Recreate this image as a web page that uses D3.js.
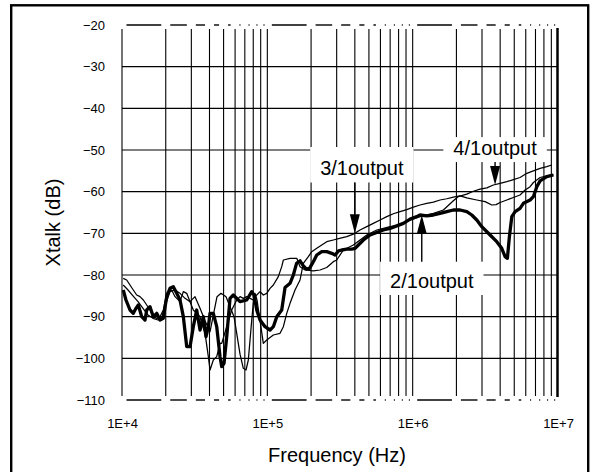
<!DOCTYPE html>
<html><head><meta charset="utf-8">
<script src="https://cdn.jsdelivr.net/npm/d3@7"></script>
<style>body{margin:0;background:#fff}svg{display:block;font-family:"Liberation Sans",Arial,sans-serif}</style>
</head><body><svg id="c" width="594" height="472"></svg>
<script>
// ---- data ----
const yTicks = [-20,-30,-40,-50,-60,-70,-80,-90,-100,-110];
const xTickValues = [1e4,1e5,1e6,1e7];
const xTickLabels = ["1E+4","1E+5","1E+6","1E+7"];

// 2/1output (bold)
const freq21 = [1.02e4,1.065e4,1.135e4,1.196e4,1.248e4,1.295e4,1.367e4,1.44e4,1.479e4,1.558e4,1.642e4,1.733e4,1.826e4,1.924e4,2.03e4,2.14e4,2.255e4,2.38e4,2.507e4,2.642e4,2.788e4,2.938e4,3.095e4,3.266e4,3.442e4,3.627e4,3.786e4,3.927e4,4.034e4,4.25e4,4.485e4,4.726e4,4.856e4,5.035e4,5.255e4,5.537e4,5.834e4,6.488e4,7.216e4,7.81e4,8.1e4,8.45e4,8.91e4,9.64e4,1.044e5,1.1e5,1.161e5,1.256e5,1.324e5,1.433e5,1.51e5,1.589e5,1.679e5,1.769e5,1.861e5,1.952e5,2.073e5,2.188e5,2.368e5,2.564e5,2.775e5,2.924e5,3.09e5,3.252e5,3.52e5,3.81e5,4.015e5,4.23e5,4.58e5,5.09e5,5.66e5,6.28e5,6.99e5,7.77e5,8.63e5,9.6e5,1.067e6,1.124e6,1.25e6,1.389e6,1.544e6,1.717e6,1.906e6,2.12e6,2.357e6,2.552e6,2.762e6,2.99e6,3.41e6,3.79e6,4.1e6,4.325e6,4.485e6,4.63e6,4.81e6,5.07e6,5.48e6,5.78e6,6.43e6,6.77e6,7.15e6,7.53e6,8.37e6,9.3e6];
const db21 = [-83.6,-86,-88.4,-89.2,-88,-87.2,-90,-90.8,-88.4,-87.6,-90,-89.2,-90.8,-90.4,-85.2,-83.2,-82.8,-84.4,-86,-90,-97.2,-97.2,-92.4,-88.4,-93.2,-90,-94.8,-92.4,-89.2,-89.2,-92.4,-99.6,-102,-101.2,-94.8,-85.6,-84.8,-86.4,-86,-84,-84.8,-88.4,-90.8,-92.4,-93.2,-92.4,-90,-88.4,-83,-82,-80,-77.2,-76.6,-77.8,-78.6,-78.4,-76.8,-75.2,-74.4,-74.4,-74.8,-75.2,-74.2,-74,-73.8,-73.8,-73.6,-72.8,-71.6,-70.4,-69.8,-69.2,-68.8,-68.2,-67.6,-66.6,-66,-65.6,-65.8,-65.6,-65.2,-64.8,-64.4,-64.4,-64.8,-65.6,-66.8,-68.4,-70.4,-72,-73.6,-75.6,-76,-70.8,-66,-64.8,-64,-62.8,-62,-61.2,-58.8,-57.4,-56.4,-56];

// 4/1output (thin)
const freq41 = [1.02e4,1.077e4,1.135e4,1.196e4,1.262e4,1.33e4,1.402e4,1.479e4,1.558e4,1.642e4,1.733e4,1.826e4,1.924e4,2.03e4,2.198e4,2.317e4,2.507e4,2.642e4,2.788e4,2.938e4,3.095e4,3.266e4,3.442e4,3.536e4,3.727e4,3.927e4,4.034e4,4.25e4,4.485e4,4.726e4,4.856e4,5.255e4,5.689e4,6.157e4,6.488e4,6.836e4,7.216e4,7.603e4,8.009e4,8.45e4,8.91e4,9.386e4,9.906e4,1.044e5,1.1e5,1.19e5,1.256e5,1.289e5,1.433e5,1.594e5,1.679e5,1.818e5,2.073e5,2.305e5,2.564e5,2.846e5,3.004e5,3.334e5,3.907e5,4.345e5,4.832e5,5.66e5,6.99e5,8.19e5,9.6e5,1.124e6,1.389e6,1.627e6,1.906e6,2.054e6,2.357e6,2.617e6,2.911e6,3.236e6,3.593e6,3.996e6,4.443e6,4.932e6,5.48e6,6.1e6,6.77e6,7.53e6,8.37e6,9.07e6];
const db41 = [-80.8,-81.2,-82.4,-83.6,-84.8,-85.2,-86,-87.2,-88.4,-90,-90.4,-90,-88.4,-84.4,-83.6,-85.2,-86.4,-84,-84.4,-86.4,-88.4,-89.2,-90,-91.6,-94,-99.6,-102.8,-100.4,-99.6,-96.4,-96.4,-92.4,-88.4,-86,-85.2,-85.6,-85.2,-85.6,-86,-84.8,-84,-84.8,-84.4,-83.2,-82.4,-80.4,-78,-76.4,-76,-76,-78,-78.8,-79,-78.8,-78.2,-76.8,-76.4,-74,-72.8,-71.6,-70.4,-69.2,-68.4,-68,-66.8,-66,-65.2,-64.4,-62.2,-61.2,-60.6,-59.9,-59.4,-59.1,-58.4,-58,-57.6,-57.1,-56.6,-55.6,-55,-54.4,-54,-53.6];

// 3/1output (thin)
const freq31 = [1.02e4,1.1e4,1.19e4,1.289e4,1.395e4,1.51e4,1.635e4,1.77e4,1.885e4,2.008e4,2.14e4,2.317e4,2.507e4,2.714e4,2.938e4,3.18e4,3.442e4,3.727e4,4.034e4,4.23e4,4.506e4,4.8e4,5.197e4,5.537e4,5.9e4,6.157e4,6.488e4,6.836e4,7.136e4,7.4e4,7.603e4,7.81e4,8.009e4,8.228e4,8.49e4,8.91e4,9.386e4,9.906e4,1.1e5,1.223e5,1.289e5,1.36e5,1.433e5,1.551e5,1.679e5,1.769e5,1.915e5,2.021e5,2.188e5,2.564e5,2.846e5,3.14e5,3.52e5,3.907e5,4.345e5,4.832e5,5.364e5,5.965e5,6.633e5,7.366e5,8.19e5,9.107e5,1.011e6,1.124e6,1.25e6,1.389e6,1.544e6,1.717e6,1.906e6,2.12e6,2.357e6,2.762e6,3.15e6,3.503e6,3.75e6,3.996e6,4.443e6,4.932e6,5.48e6,5.94e6,6.43e6,6.77e6,7.53e6,8.37e6,9.3e6];
const db31 = [-82.4,-83.6,-85,-86.4,-88,-89.6,-90.4,-90.8,-90,-86.8,-84,-83.6,-84.4,-85.6,-86.4,-85.2,-88,-91,-93.6,-90,-85.2,-84.4,-85.2,-87.6,-90,-94,-99,-102.4,-102.8,-100.4,-95.6,-90.8,-86.8,-84.4,-86,-91,-96.4,-95.6,-94.4,-94,-92.4,-89.2,-86.8,-83.6,-81.2,-77.2,-75.6,-74.4,-73.6,-72,-71.6,-71.2,-70.8,-70.2,-69.2,-68.4,-67.6,-66.8,-66,-65.3,-64.8,-64.3,-63.7,-63.2,-62.8,-62.5,-62,-61.7,-61.3,-61,-61.5,-62,-62.4,-63.2,-63.1,-62.6,-62,-61.4,-60.8,-59.6,-58.8,-57.8,-56.6,-56.2,-55.9];

const seriesNames = ["2/1output","3/1output","4/1output"];
// annotation anchors (data units)
const annoText   = ["3/1output","4/1output","2/1output"];
const annoArrowF = [4.0e5, 3.69e6, 1.155e6];
const annoTipDb  = [-70, -58.4, -65.6];
const annoTextF  = [4.47e5, 3.69e6, 1.354e6];
const annoTextDb = [-56, -51.1, -83];

// ---- layout ----
const svg = d3.select("#c");
const x = d3.scaleLog().domain([1e4,1e7]).range([122,558]);
const y = d3.scaleLinear().domain([-110,-20]).range([400,25]);

svg.append("rect").attr("width",594).attr("height",472).attr("fill","#fff");
svg.append("rect").attr("x",11.2).attr("y",5.3).attr("width",577).attr("height",480)
  .attr("fill","none").attr("stroke","#000").attr("stroke-width",2.4);

const xGrid = [];
[1e4,1e5,1e6].forEach(d=>{for(let k=1;k<=9;k++) xGrid.push(k*d);});
xGrid.push(1e7);

const grid = svg.append("g");
grid.selectAll("line.h").data(yTicks.filter(v=>v>-110 && v<-20)).enter().append("line")
  .attr("x1",x(1e4)).attr("x2",x(1e7)).attr("y1",d=>y(d)).attr("y2",d=>y(d))
  .attr("stroke","#000").attr("stroke-width",1.1);
grid.selectAll("line.v").data(xGrid.slice(0,-1)).enter().append("line")
  .attr("x1",d=>x(d)).attr("x2",d=>x(d)).attr("y1",y(-20)+4).attr("y2",y(-110)-4)
  .attr("stroke","#000").attr("stroke-width",1.1);
grid.append("line").attr("x1",x(1e7)-0.5).attr("x2",x(1e7)-0.5).attr("y1",y(-20)+3).attr("y2",y(-110)-3)
  .attr("stroke","#000").attr("stroke-width",2.5);
[-20,-110].forEach(v=>{
  for(let i=0;i<xGrid.length-1;i++){
    const a=x(xGrid[i]), b=x(xGrid[i+1]), w=b-a, m=(a+b)/2;
    const len=Math.max(w-9,1);
    grid.append("line").attr("x1",m-len/2).attr("x2",m+len/2).attr("y1",y(v)).attr("y2",y(v))
      .attr("stroke","#000").attr("stroke-width",1.4);
  }
});

const yAxis = svg.append("g").attr("transform",`translate(${x(1e4)},0)`)
  .call(d3.axisLeft(y).tickValues(yTicks).tickSize(0).tickPadding(17));
const xAxis = svg.append("g").attr("transform",`translate(0,${y(-110)})`)
  .call(d3.axisBottom(x).tickValues(xTickValues).tickFormat((d,i)=>xTickLabels[i]).tickSize(0).tickPadding(19));
[yAxis,xAxis].forEach(g=>{
  g.select(".domain").remove();
  g.attr("font-family",null).attr("font-size",null);
  g.selectAll("text").attr("font-size",13).attr("fill","#000");
});

const annoG = svg.append("g");
const boxes = [];
annoText.forEach((t,i)=>{
  const tx = x(annoTextF[i]), ty = y(annoTextDb[i]);
  const txt = svg.append("text").attr("x",tx).attr("y",ty).attr("text-anchor","middle")
    .attr("font-size",20).text(t);
  const w = txt.node().getComputedTextLength();
  txt.remove();
  boxes.push({tx,ty,w});
});
const boxTopOff = [28,17.5,25.8];
boxes.forEach((b,i)=>{
  annoG.append("rect").attr("x",b.tx-b.w/2-10).attr("y",b.ty-boxTopOff[i])
    .attr("width",b.w+20).attr("height",boxTopOff[i]+7.5).attr("fill","#fff");
});

const line = d3.line().x(d=>x(d[0])).y(d=>y(d[1]));
const zip = (f,v)=>f.map((d,i)=>[d,v[i]]);
const series = [
  {name:seriesNames[1], pts:zip(freq31,db31), w:1.25},
  {name:seriesNames[2], pts:zip(freq41,db41), w:1.25},
  {name:seriesNames[0], pts:zip(freq21,db21), w:3.3}
];
svg.append("g").selectAll("path").data(series).enter().append("path")
  .attr("d",d=>line(d.pts)).attr("fill","none").attr("stroke","#000")
  .attr("stroke-width",d=>d.w).attr("stroke-linejoin","round");

annoText.forEach((t,i)=>{
  const b = boxes[i];
  const ax = x(annoArrowF[i]), tip = y(annoTipDb[i]);
  const tail = tip > b.ty ? b.ty + 7.5 : b.ty - boxTopOff[i];
  const dir = tip > tail ? 1 : -1;
  const headLen = 19, hw = 5;
  const base = tip - dir*headLen;
  svg.append("line").attr("x1",ax).attr("x2",ax).attr("y1",tail).attr("y2",base)
    .attr("stroke","#000").attr("stroke-width",1.4);
  svg.append("path").attr("d",`M${ax-hw},${base}L${ax+hw},${base}L${ax},${tip}Z`).attr("fill","#000");
  svg.append("text").attr("x",b.tx).attr("y",b.ty).attr("text-anchor","middle")
    .attr("font-size",20).attr("fill","#000").text(t);
});

svg.append("text").attr("x",337).attr("y",462.3).attr("text-anchor","middle")
  .attr("font-size",20).attr("fill","#000").text("Frequency (Hz)");
svg.append("text").attr("transform","translate(60,222.5) rotate(-90)").attr("text-anchor","middle")
  .attr("font-size",20).attr("fill","#000").text("Xtalk (dB)");
</script></body></html>
